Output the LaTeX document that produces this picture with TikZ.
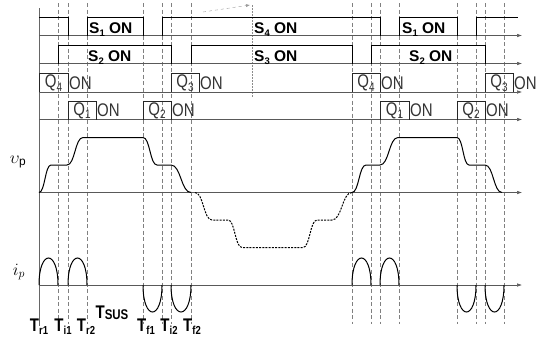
\documentclass[tikz,border=0pt]{standalone}
\usepackage{fontspec}
\setmainfont{Liberation Sans}
\usetikzlibrary{arrows.meta}
\newcommand\sbs[2][9.5]{\raisebox{-0.35ex}{\fontsize{#1}{#1}\selectfont #2}}
\newcommand\tallbox[1]{\scalebox{1}[1.22]{#1}}
\begin{document}
\begin{tikzpicture}[x=1pt,y=-1pt,
  wave/.style={line width=1pt,black},
  qbox/.style={line width=0.8pt,black!85},
  axisline/.style={line width=0.5pt,black!65,-{Latex[length=5pt,width=3.5pt]}},
  vdash/.style={line width=0.5pt,black!50,dash pattern=on 4pt off 2.5pt},
  negwave/.style={line width=1pt,black,dash pattern=on 2pt off 1.2pt},
  slab/.style={font=\fontsize{15.5}{15.5}\selectfont\bfseries,inner sep=0pt,anchor=base west},
  qlab/.style={font=\fontsize{15}{15}\selectfont,text=black!80,inner sep=0pt},
  tlab/.style={font=\fontsize{15}{15}\selectfont\bfseries,inner sep=0pt,anchor=base},
  sym/.style={font=\fontsize{17}{17}\selectfont,inner sep=0pt}]
\useasboundingbox (0,0) rectangle (544,338);

% vertical timing lines
\foreach \x in {58,68,87,143,162,171,191,352,371,380,399,457,476,485,504}
  \draw[vdash] (\x,3) -- (\x,324);
\draw[line width=0.5pt,black!60] (39,8) -- (39,326);
\draw[line width=0.4pt,black!45,dash pattern=on 1.5pt off 1.5pt] (252,5) -- (252,98);
\draw[line width=0.4pt,black!40,dashed,-{Latex[length=4pt,width=3pt]}] (203,12) -- (250,5);

% baselines
\foreach \y in {35.5,63.5,92,119.5,192.5,285}
  \draw[axisline] (39,\y) -- (522,\y);

% S1 / S4 row
\draw[wave] (39,17.5) -- (68,17.5) -- (68,35.5);
\draw[wave] (87,35.5) -- (87,17.5) -- (143,17.5) -- (143,35.5);
\draw[wave] (162,35.5) -- (162,17.5) -- (380,17.5) -- (380,35.5);
\draw[wave] (399,35.5) -- (399,17.5) -- (457,17.5) -- (457,35.5);
\draw[wave] (476,35.5) -- (476,17.5) -- (518,17.5);
\node[slab] (s1a) at (89,33.5) {S\sbs{1} ON};
\node[slab] (s4) at (254,33.5) {S\sbs{4} ON};
\node[slab] (s1b) at (402,33.5) {S\sbs{1} ON};

% S2 / S3 row
\draw[wave] (58,63.5) -- (58,45.5) -- (171,45.5) -- (171,63.5);
\draw[wave] (191,63.5) -- (191,45.5) -- (352,45.5) -- (352,63.5);
\draw[wave] (371,63.5) -- (371,45.5) -- (485,45.5) -- (485,63.5);
\node[slab] (s2a) at (88,61.5) {S\sbs{2} ON};
\node[slab] (s3) at (254,61.5) {S\sbs{3} ON};
\node[slab] (s2b) at (409,61.5) {S\sbs{2} ON};

% Q4 / Q3 row
\foreach \a/\b/\n/\nm in {39/68/4/qa,171/199/3/qb,352/380/4/qc,485/513/3/qd}{
  \draw[qbox] (\a,92) -- (\a,73) -- (\b,73) -- (\b,92);
  \node[qlab] (\nm) at ({(\a+\b)/2},83) {\tallbox{Q\sbs[10]{\n}}};
  \node[qlab,anchor=west] (\nm on) at (\b+1,83) {\tallbox{ON}};
}
% Q1 / Q2 row
\foreach \a/\b/\n/\nm in {68/96/1/qe,143/171/2/qf,380/409/1/qg,457/485/2/qh}{
  \draw[qbox] (\a,119.5) -- (\a,101) -- (\b,101) -- (\b,119.5);
  \node[qlab] (\nm) at ({(\a+\b)/2},110.5) {\tallbox{Q\sbs[10]{\n}}};
  \node[qlab,anchor=west] (\nm on) at (\b+1,110.5) {\tallbox{ON}};
}

% v_p waveform
\draw[wave] (39,192.5) .. controls (45,192.5) and (45,165) .. (51,165) -- (67,165)
  .. controls (75,165) and (75,137.5) .. (83,137.5) -- (143,137.5)
  .. controls (150,137.5) and (150,165) .. (157,165) -- (171,165)
  .. controls (181,165) and (181,192.5) .. (191,192.5);
\draw[negwave] (195,192.5) .. controls (203.5,192.5) and (203.5,220) .. (212,220) -- (228,220)
  .. controls (235,220) and (235,247.5) .. (242,247.5) -- (303,247.5)
  .. controls (310,247.5) and (310,220) .. (317,220) -- (332,220)
  .. controls (342,220) and (342,192.5) .. (352,192.5);
\draw[wave] (352,192.5) .. controls (359,192.5) and (359,165) .. (366,165) -- (380,165)
  .. controls (389,165) and (389,137.5) .. (398,137.5) -- (457,137.5)
  .. controls (463,137.5) and (463,165) .. (469,165) -- (485,165)
  .. controls (493.5,165) and (493.5,192.5) .. (502,192.5);

% i_p waveform
\foreach \a/\b in {39/58,68/87,352/371,380/399}
  \draw[wave] (\a,285) .. controls (\a,249) and (\b,249) .. (\b,285);
\foreach \a/\b in {143/162,171/191,457/476,485/504}
  \draw[wave] (\a,285) .. controls (\a,321) and (\b,321) .. (\b,285);

% axis labels
\node[sym] (vp) at (18,162) {$\upsilon_{\mathrm{p}}$};
\node[sym] (ip) at (19,272) {$i_p$};

% time labels
\node[tlab] (tr1) at (39,331) {\tallbox{T\sbs{r1}}};
\node[tlab] (ti1) at (63,331) {\tallbox{T\sbs{i1}}};
\node[tlab] (tr2) at (86,331) {\tallbox{T\sbs{r2}}};
\node[tlab] (tsus) at (112,318) {\tallbox{T\raisebox{-0.2ex}{\fontsize{11.5}{11.5}\selectfont SUS}}};
\node[tlab] (tf1) at (146,331) {\tallbox{T\sbs{f1}}};
\node[tlab] (ti2) at (169,331) {\tallbox{T\sbs{i2}}};
\node[tlab] (tf2) at (192,331) {\tallbox{T\sbs{f2}}};
\end{tikzpicture}
\end{document}
